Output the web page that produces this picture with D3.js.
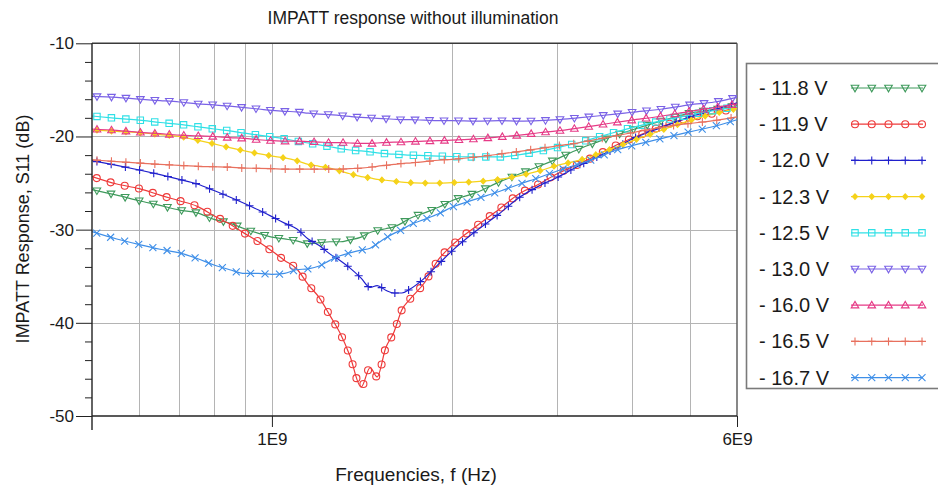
<!DOCTYPE html>
<html><head><meta charset="utf-8">
<script src="https://cdn.jsdelivr.net/npm/d3@7"></script>
<style>
body{margin:0;background:#fff}
svg{display:block}
text{font-family:"Liberation Sans",Arial,Helvetica,sans-serif;fill:#1a1a1a}
</style>
</head><body>
<svg id="c" width="938" height="489"></svg>
<script>
// ---- data (frequency in GHz, S11 in dB) ----
const freqsGHz = [0.50,0.55,0.60,0.65,0.70,0.75,0.80,0.85,0.90,0.95,
  1.00,1.05,1.10,1.15,1.20,1.25,1.30,1.35,
  1.41,1.46,1.50,1.55,1.60,1.65,1.70,
  1.80,1.90,2.00,
  2.20,2.40,2.60,2.80,3.00,
  3.25,3.50,3.75,4.00,
  4.50,5.00,5.50,6.00];

const v11_8 = [-25.7,-26.3,-26.9,-27.4,-27.9,-28.2,-28.9,-29.3,-29.9,-30.4,
  -30.8,-31.0,-31.2,-31.5,-31.4,-31.3,-31.3,-31.1,
  -30.8,-30.3,-30.1,-29.9,-29.7,-29.3,-28.8,
  -28.2,-27.6,-26.9,
  -26.0,-24.9,-24.0,-23.2,-22.4,
  -21.4,-20.6,-19.9,-19.3,
  -18.3,-17.5,-17.1,-16.7];

const v11_9 = [-24.3,-25.1,-25.6,-26.3,-26.9,-27.5,-28.5,-29.4,-30.4,-31.3,
  -32.3,-33.3,-34.2,-35.9,-37.3,-39.2,-41.1,-43.5,
  -46.9,-44.8,-45.8,-42.7,-41.0,-38.6,-37.5,
  -35.7,-33.2,-31.7,
  -29.6,-27.8,-26.1,-25.1,-24.0,
  -23.0,-22.0,-21.0,-20.2,
  -18.9,-18.0,-17.5,-16.9];

const v12_0 = [-22.6,-23.1,-23.6,-24.1,-24.6,-25.1,-25.8,-26.5,-27.2,-27.9,
  -28.6,-29.3,-29.9,-31.0,-31.7,-32.6,-33.3,-34.1,
  -35.2,-36.2,-36.0,-36.5,-36.8,-36.8,-36.4,
  -35.2,-33.7,-32.3,
  -30.1,-28.3,-26.5,-25.3,-24.4,
  -23.2,-22.2,-21.3,-20.3,
  -19.0,-17.9,-17.1,-16.4];

const v12_3 = [-19.3,-19.45,-19.6,-19.8,-20.0,-20.4,-20.8,-21.2,-21.55,-21.85,
  -22.1,-22.3,-22.6,-23.0,-23.2,-23.4,-23.7,-24.0,
  -24.3,-24.45,-24.6,-24.7,-24.8,-24.9,-24.95,
  -25.0,-25.0,-24.95,
  -24.85,-24.6,-24.2,-23.7,-23.1,
  -22.6,-21.9,-21.2,-20.5,
  -19.3,-18.3,-17.55,-17.0];

const v12_5 = [-17.8,-18.05,-18.25,-18.5,-18.7,-18.95,-19.2,-19.4,-19.65,-19.85,
  -20.05,-20.25,-20.5,-20.7,-20.9,-21.1,-21.3,-21.45,
  -21.55,-21.65,-21.75,-21.85,-21.9,-21.95,-22.0,
  -22.05,-22.1,-22.15,
  -22.2,-22.2,-21.95,-21.6,-21.2,
  -20.7,-20.1,-19.55,-19.05,
  -18.3,-17.7,-17.2,-16.8];

const v13_0 = [-15.7,-15.8,-16.0,-16.15,-16.3,-16.5,-16.6,-16.75,-16.9,-17.05,
  -17.2,-17.3,-17.35,-17.5,-17.6,-17.65,-17.75,-17.85,
  -17.95,-18.0,-18.05,-18.1,-18.15,-18.2,-18.2,
  -18.25,-18.3,-18.3,
  -18.35,-18.3,-18.35,-18.3,-18.2,
  -18.0,-17.8,-17.6,-17.4,
  -17.05,-16.6,-16.3,-15.8];

const v16_0 = [-19.2,-19.35,-19.55,-19.7,-19.85,-19.92,-20.0,-20.12,-20.2,-20.35,
  -20.45,-20.5,-20.5,-20.55,-20.6,-20.65,-20.65,-20.7,
  -20.75,-20.75,-20.7,-20.65,-20.6,-20.6,-20.55,
  -20.5,-20.45,-20.4,
  -20.25,-20.05,-19.85,-19.6,-19.4,
  -19.1,-18.8,-18.5,-18.25,
  -17.8,-17.3,-16.9,-16.5];

const v16_5 = [-22.5,-22.7,-22.85,-23.0,-23.1,-23.2,-23.25,-23.3,-23.4,-23.42,
  -23.45,-23.5,-23.5,-23.5,-23.5,-23.5,-23.5,-23.45,
  -23.4,-23.3,-23.2,-23.1,-23.0,-22.9,-22.85,
  -22.7,-22.55,-22.45,
  -22.2,-21.9,-21.6,-21.3,-21.0,
  -20.7,-20.3,-19.95,-19.6,
  -19.0,-18.6,-18.3,-17.9];

const v16_7 = [-30.2,-31.0,-31.6,-32.1,-32.5,-33.1,-33.8,-34.3,-34.7,-34.7,
  -34.8,-34.7,-34.3,-34.2,-33.9,-33.3,-32.8,-32.5,
  -32.2,-32.0,-31.5,-30.9,-30.4,-30.0,-29.5,
  -28.9,-28.3,-27.6,
  -26.7,-25.9,-25.1,-24.4,-23.7,
  -23.0,-22.3,-21.5,-21.0,
  -20.2,-19.5,-18.9,-18.2];

const seriesLabels = ["- 11.8 V","- 11.9 V","- 12.0 V","- 12.3 V","- 12.5 V","- 13.0 V","- 16.0 V","- 16.5 V","- 16.7 V"];
const seriesValues = [v11_8, v11_9, v12_0, v12_3, v12_5, v13_0, v16_0, v16_5, v16_7];
const seriesColors = ["#3f9a5c","#ee3a3a","#2020cc","#f5d21a","#2fe0e6","#7a62e6","#e63a86","#e8705e","#3f8fe8"];
const seriesMarkers = ["triDown","circle","plus","diamond","square","triDown","triUp","plus","cross"];

const yMajorTicks = [-10,-20,-30,-40,-50];
const yMinorTicks = [-12,-14,-16,-18,-22,-24,-26,-28,-32,-34,-36,-38,-42,-44,-46,-48];
const yGridValues = [-20,-30,-40];
const xTickValues = [1e9, 6e9];
const xTickLabels = ["1E9","6E9"];
const xGridValues = [6e8,7e8,8e8,9e8,1e9,2e9,3e9,4e9,5e9];

const titleText = "IMPATT response without illumination";
const xLabelText = "Frequencies, f (Hz)";
const yLabelText = "IMPATT Response, S11 (dB)";

// ---- layout ----
const L = 92, R = 737, T = 43.3, B = 416;
const svg = d3.select("#c");
const x = d3.scaleLog().domain([5e8, 6e9]).range([L, R]);
const y = d3.scaleLinear().domain([-50, -10]).range([B, T]);

// grid
const grid = svg.append("g").attr("stroke", "#b4b4b4").attr("stroke-width", 1);
grid.selectAll("line.v").data(xGridValues).join("line")
  .attr("x1", d => Math.round(x(d)) + 0.5).attr("x2", d => Math.round(x(d)) + 0.5)
  .attr("y1", T).attr("y2", B);
grid.selectAll("line.h").data(yGridValues).join("line")
  .attr("x1", L).attr("x2", R)
  .attr("y1", d => Math.round(y(d)) + 0.5).attr("y2", d => Math.round(y(d)) + 0.5);

// frame top/right
svg.append("line").attr("x1", L).attr("x2", R).attr("y1", T).attr("y2", T)
  .attr("stroke", "#3a3a3a").attr("stroke-width", 1.4);
svg.append("line").attr("x1", R).attr("x2", R).attr("y1", T).attr("y2", B)
  .attr("stroke", "#555").attr("stroke-width", 1.4);

// marker shapes
function markerPath(type) {
  switch (type) {
    case "triDown": return "M-3.8,-2.7L3.8,-2.7L0,3.8Z";
    case "triUp": return "M-3.8,2.7L3.8,2.7L0,-3.8Z";
    case "circle": return "M3.5,0A3.5,3.5 0 1,1 -3.5,0A3.5,3.5 0 1,1 3.5,0Z";
    case "square": return "M-3.2,-3.2H3.2V3.2H-3.2Z";
    case "diamond": return "M0,-2.8L2.6,0L0,2.8L-2.6,0Z";
    case "plus": return "M-4,0H4M0,-4V4";
    case "cross": return "M-3.5,-3.5L3.5,3.5M-3.5,3.5L3.5,-3.5";
  }
}

// series
svg.append("clipPath").attr("id", "pc").append("rect")
  .attr("x", L).attr("y", T - 6).attr("width", R - L + 6).attr("height", B - T + 6);
const plot = svg.append("g").attr("clip-path", "url(#pc)");
const line = d3.line().x(d => x(d[0] * 1e9)).y(d => y(d[1])).curve(d3.curveMonotoneX);

seriesValues.forEach((vals, i) => {
  const pts = freqsGHz.map((f, j) => [f, vals[j]]);
  const col = seriesColors[i];
  const g = plot.append("g");
  const p = g.append("path").datum(pts).attr("d", line)
    .attr("fill", "none").attr("stroke", col).attr("stroke-width", 1.2);
  const node = p.node();
  const len = node.getTotalLength();
  const step = 14.5;
  const pos = [];
  for (let s = 5; s < len; s += step) pos.push(node.getPointAtLength(s));
  const filled = seriesMarkers[i] === "diamond";
  g.selectAll("path.m").data(pos).join("path").attr("class", "m")
    .attr("transform", d => `translate(${d.x},${d.y})`)
    .attr("d", markerPath(seriesMarkers[i]))
    .attr("fill", filled ? col : "none")
    .attr("stroke", col).attr("stroke-width", 1.1);
});

// axes
const yAxis = svg.append("g").attr("transform", `translate(${L},0)`)
  .call(d3.axisLeft(y).tickValues(yMajorTicks).tickSize(16).tickPadding(2).tickFormat(d => String(d)));
yAxis.select(".domain").remove();
yAxis.selectAll("text").style("font-size", "17px").style("font-family", '"Liberation Sans",Arial,sans-serif').attr("fill", "#1a1a1a");
yAxis.selectAll("line").attr("stroke", "#222");
const yMinor = svg.append("g").attr("transform", `translate(${L},0)`)
  .call(d3.axisLeft(y).tickValues(yMinorTicks).tickSize(7).tickFormat(""));
yMinor.select(".domain").remove();
yMinor.selectAll("line").attr("stroke", "#222");

const xAxis = svg.append("g").attr("transform", `translate(0,${B})`)
  .call(d3.axisBottom(x).tickValues(xTickValues).tickSize(11).tickPadding(6).tickFormat((d, i) => xTickLabels[i]));
xAxis.select(".domain").remove();
xAxis.selectAll("text").style("font-size", "17px").style("font-family", '"Liberation Sans",Arial,sans-serif').attr("fill", "#1a1a1a");
xAxis.selectAll("line").attr("stroke", "#222");

svg.append("line").attr("x1", L).attr("x2", R).attr("y1", B).attr("y2", B)
  .attr("stroke", "#222").attr("stroke-width", 1.4);
svg.append("line").attr("x1", L).attr("x2", L).attr("y1", T).attr("y2", B + 14)
  .attr("stroke", "#222").attr("stroke-width", 1.4);

// titles
svg.append("text").attr("x", 413).attr("y", 24).attr("text-anchor", "middle")
  .style("font-size", "17.5px").text(titleText);
svg.append("text").attr("x", 416).attr("y", 481).attr("text-anchor", "middle")
  .style("font-size", "19px").text(xLabelText);
svg.append("text").attr("transform", "translate(29,229) rotate(-90)").attr("text-anchor", "middle")
  .style("font-size", "18px").text(yLabelText);

// legend
const lg = svg.append("g");
lg.append("rect").attr("x", 746.5).attr("y", 63.5).attr("width", 200).attr("height", 325)
  .attr("fill", "#fff").attr("stroke", "#7a7a7a").attr("stroke-width", 1.6);
seriesLabels.forEach((lab, i) => {
  const cy = 88 + i * 36.2;
  lg.append("text").attr("x", 759).attr("y", cy + 7).style("font-size", "20px").text(lab);
  const col = seriesColors[i];
  lg.append("line").attr("x1", 851).attr("x2", 923).attr("y1", cy).attr("y2", cy)
    .attr("stroke", col).attr("stroke-width", 1.2);
  const mk = d3.range(5).map(k => 855 + k * 16.75);
  lg.selectAll(null).data(mk).join("path")
    .attr("transform", d => `translate(${d},${cy})`)
    .attr("d", markerPath(seriesMarkers[i]))
    .attr("fill", seriesMarkers[i] === "diamond" ? col : "none")
    .attr("stroke", col).attr("stroke-width", 1.1);
});
</script>
</body></html>
